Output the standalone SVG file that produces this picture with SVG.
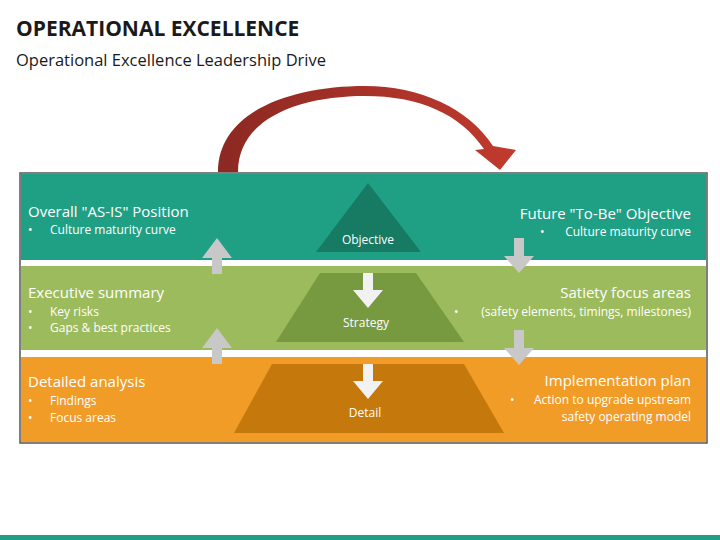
<svg xmlns="http://www.w3.org/2000/svg" width="720" height="540" viewBox="0 0 720 540">
<defs>
<linearGradient id="rg" x1="0" x2="1"><stop offset="0" stop-color="#8b2922"/><stop offset="1" stop-color="#c23a2e"/></linearGradient>
<style>
text{font-family:"Open Sans","Liberation Sans",sans-serif;fill:#fff}
.h{font-size:15px}.b{font-size:12px}.c{font-size:12px}
.ga{fill:#c8c8c8}.wa{fill:#f2f2f2}
</style>
</defs>
<rect width="720" height="540" fill="#fff"/>
<text x="16" y="36" style="font-size:21px;font-weight:bold;fill:#1a1a1a">OPERATIONAL EXCELLENCE</text>
<text x="16" y="66" style="font-size:16.5px;fill:#1a1a1a">Operational Excellence Leadership Drive</text>
<rect x="0" y="535" width="720" height="5" fill="#1fa085"/>
<g id="arc"><path d="M218,172 C218,112 290,86 365,86 C420,86 468,108 493,146 L516,150 L500,170 L475,150 L484,149 C460,114 420,96 365,96 C300,96 238,118 238,172 Z" fill="url(#rg)"/></g>
<g id="bands">
<rect x="20" y="173" width="687" height="270" fill="#fff" stroke="#555" stroke-width="1.5"/>
<rect x="21" y="174" width="685" height="86" fill="#1fa085"/>
<rect x="21" y="266" width="685" height="84" fill="#9cbb5c"/>
<rect x="21" y="357" width="685" height="85" fill="#f19c27"/>
</g>
<g id="objective"><polygon points="368,183 421,252 316,252" fill="#177a63"/><text x="368" y="244" text-anchor="middle" class="c">Objective</text></g>
<g id="strategy"><polygon points="320,273 416,273 464,342 276,342" fill="#779940"/><text x="366" y="327" text-anchor="middle" class="c">Strategy</text></g>
<g id="detail"><polygon points="272,364 464,364 504,433 234,433" fill="#c5780c"/><text x="365" y="417" text-anchor="middle" class="c">Detail</text></g>
<g id="connectors">
<polygon class="ga" points="212,274 222,274 222,258 232,258 217,238 202,258 212,258"/>
<polygon class="ga" points="212,364 222,364 222,348 232,348 217,328 202,348 212,348"/>
<polygon class="ga" points="514,238 524,238 524,256 534,256 519,273 504,256 514,256"/>
<polygon class="ga" points="514,330 524,330 524,348 534,348 519,365 504,348 514,348"/>
<polygon class="wa" points="363,273 373,273 373,290 383,290 368,308 353,290 363,290"/>
<polygon class="wa" points="363,364 373,364 373,381 383,381 368,399 353,381 363,381"/>
</g>
<g id="asis"><text x="28" y="217" class="h">Overall "AS-IS" Position</text><text x="28" y="234" class="b">•</text><text x="50" y="234" class="b">Culture maturity curve</text></g>
<g id="tobe"><text x="691" y="219" text-anchor="end" class="h">Future "To-Be" Objective</text><text x="540" y="236" class="b">•</text><text x="691" y="236" text-anchor="end" class="b">Culture maturity curve</text></g>
<g id="exec"><text x="28" y="298" class="h">Executive summary</text><text x="28" y="316" class="b">•</text><text x="50" y="316" class="b">Key risks</text><text x="28" y="332" class="b">•</text><text x="50" y="332" class="b">Gaps &amp; best practices</text></g>
<g id="satiety"><text x="691" y="298" text-anchor="end" class="h">Satiety focus areas</text><text x="454" y="316" class="b">•</text><text x="691" y="316" text-anchor="end" class="b">(safety elements, timings, milestones)</text></g>
<g id="analysis"><text x="28" y="387" class="h">Detailed analysis</text><text x="28" y="405" class="b">•</text><text x="50" y="405" class="b">Findings</text><text x="28" y="422" class="b">•</text><text x="50" y="422" class="b">Focus areas</text></g>
<g id="impl"><text x="691" y="386" text-anchor="end" class="h">Implementation plan</text><text x="510" y="404" class="b">•</text><text x="691" y="404" text-anchor="end" class="b">Action to upgrade upstream</text><text x="691" y="421" text-anchor="end" class="b">safety operating model</text></g>
</svg>
